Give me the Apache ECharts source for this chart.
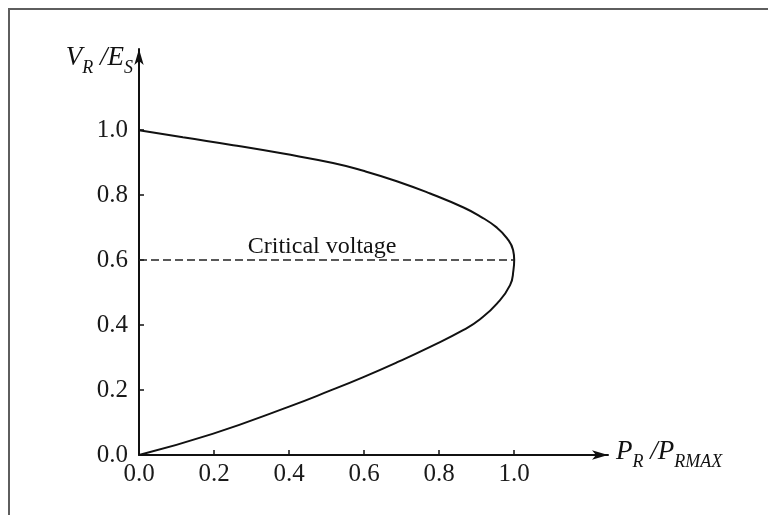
<!DOCTYPE html>
<html>
<head>
<meta charset="utf-8">
<script src="https://cdn.jsdelivr.net/npm/echarts@6/dist/echarts.min.js"></script>
<style>
  html, body { margin: 0; padding: 0; background: #fff; }
  #chart { width: 768px; height: 515px; }
</style>
</head>
<body>
<div id="chart"></div>
<script>
  // P_R/P_RMAX vs V_R/E_S, traced from top-left round the nose to the origin
  const curveP = [0, 0.117, 0.251, 0.384, 0.517, 0.598, 0.687, 0.776, 0.865, 0.909, 0.954, 0.981, 0.997, 1.0,
                  0.998, 0.989, 0.954, 0.909, 0.865, 0.776, 0.687, 0.598, 0.509, 0.4, 0.196, 0]
  const curveV = [1.0, 0.978, 0.954, 0.928, 0.899, 0.875, 0.843, 0.805, 0.762, 0.735, 0.700, 0.667, 0.631, 0.6,
                  0.569, 0.523, 0.466, 0.418, 0.385, 0.333, 0.285, 0.240, 0.198, 0.149, 0.065, 0]
  const criticalP = [0, 0.488, 1.0]
  const criticalV = [0.6, 0.6, 0.6]
  const criticalText = 'Critical voltage'
  const xTicks = [0, 0.2, 0.4, 0.6, 0.8, 1.0]
  const yTicks = [0, 0.2, 0.4, 0.6, 0.8, 1.0]

  const serif = '"Liberation Serif", "Times New Roman", serif'
  const nameRich = {
    i: { fontFamily: serif, fontStyle: 'italic', fontSize: 27, color: '#111', verticalAlign: 'bottom', padding: [0, 0, 6, 0] },
    s: { fontFamily: serif, fontStyle: 'italic', fontSize: 18, color: '#111', verticalAlign: 'bottom' }
  }

  const chart = echarts.init(document.getElementById('chart'))

  let option = {
    animation: false,
    backgroundColor: '#fff',
    graphic: [{
      type: 'rect',
      shape: { x: 9, y: 9, width: 800, height: 560 },
      style: { fill: 'none', stroke: '#5e5e5e', lineWidth: 2 },
      silent: true
    }],
    grid: {
      left: 139,
      right: 160,
      top: 49,
      bottom: 60,
      containLabel: false,
      outerBoundsMode: 'none'
    },
    xAxis: {
      type: 'value',
      min: 0,
      max: 1.25,
      interval: 0.25,
      name: '{i|P}{s|R}{i| /P}{s|RMAX}',
      nameLocation: 'end',
      nameGap: 8,
      nameTextStyle: { rich: nameRich, verticalAlign: 'middle', align: 'left' },
      axisLine: { show: true, symbol: ['none', 'arrow'], symbolSize: [7, 16], lineStyle: { color: '#111', width: 2 } },
      axisTick: { show: true, inside: true, length: 5, customValues: xTicks, lineStyle: { color: '#111', width: 1.5 } },
      axisLabel: {
        customValues: xTicks,
        margin: 7,
        fontFamily: serif,
        fontSize: 25,
        color: '#1a1a1a',
        formatter: v => v.toFixed(1)
      },
      splitLine: { show: false }
    },
    yAxis: {
      type: 'value',
      min: 0,
      max: 1.25,
      interval: 0.25,
      name: '{i|V}{s|R}{i| /E}{s|S}',
      nameLocation: 'end',
      nameGap: -12,
      nameTextStyle: { rich: nameRich, align: 'right', verticalAlign: 'middle', padding: [0, 6, 0, 0] },
      axisLine: { show: true, symbol: ['none', 'arrow'], symbolSize: [7, 16], lineStyle: { color: '#111', width: 2 } },
      axisTick: { show: true, inside: true, length: 5, customValues: yTicks, lineStyle: { color: '#111', width: 1.5 } },
      axisLabel: {
        customValues: yTicks,
        margin: 11,
        fontFamily: serif,
        fontSize: 25,
        color: '#1a1a1a',
        formatter: v => v.toFixed(1)
      },
      splitLine: { show: false }
    },
    series: [
      {
        type: 'line',
        data: curveP.map((p, i) => [p, curveV[i]]),
        smooth: 0.5,
        showSymbol: false,
        lineStyle: { color: '#111', width: 2 },
        z: 3
      },
      {
        type: 'line',
        data: criticalP.map((p, i) => ({
          value: [p, criticalV[i]],
          label: { show: i === 1 }
        })),
        showSymbol: true,
        symbol: 'circle',
        symbolSize: 0,
        lineStyle: { color: '#222', width: 1.5, type: [8, 4] },
        label: {
          position: 'top',
          distance: 1,
          formatter: criticalText,
          fontFamily: serif,
          fontSize: 24,
          color: '#111'
        }
      }
    ]
  }
  chart.setOption(option)
</script>
</body>
</html>
